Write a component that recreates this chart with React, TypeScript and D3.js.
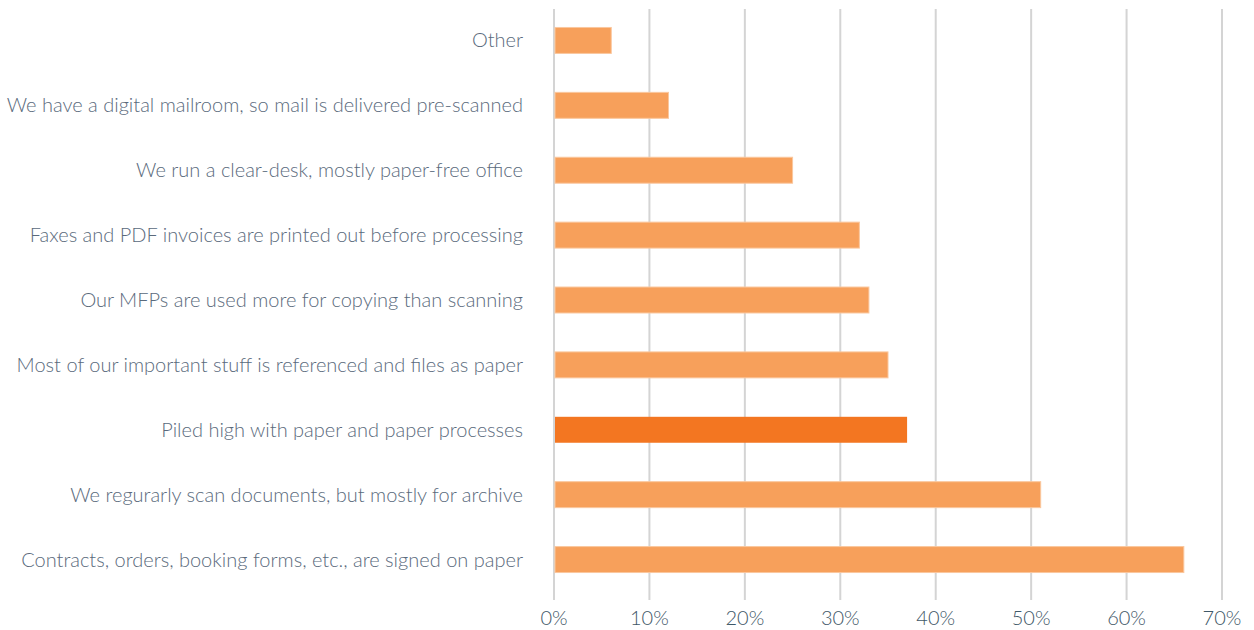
import React from "react";
import * as d3 from "d3";

const categories = [
  "Other",
  "We have a digital mailroom, so mail is delivered pre-scanned",
  "We run a clear-desk, mostly paper-free office",
  "Faxes and PDF invoices are printed out before processing",
  "Our MFPs are used more for copying than scanning",
  "Most of our important stuff is referenced and files as paper",
  "Piled high with paper and paper processes",
  "We regurarly scan documents, but mostly for archive",
  "Contracts, orders, booking forms, etc., are signed on paper",
];
const values = [6, 12, 25, 32, 33, 35, 37, 51, 66];
const highlighted = ["Piled high with paper and paper processes"];
const tickValues = [0, 10, 20, 30, 40, 50, 60, 70];

const W = 1254;
const H = 630;
const x0 = 554;
const x1 = 1222;
const yTop = 8;
const yBottom = 592;

export default function App() {
  const x = d3.scaleLinear().domain([0, 70]).range([x0, x1]);
  const y = d3
    .scaleBand<string>()
    .domain(categories)
    .range([yTop, yBottom])
    .paddingInner(0.6)
    .paddingOuter(0.3);
  const font = "Lato, 'Open Sans', sans-serif";
  return (
    <svg
      width={W}
      height={H}
      style={{ position: "absolute", left: 0, top: 0, background: "#fff" }}
    >
      {tickValues.map((t) => (
        <line
          key={"g" + t}
          x1={x(t)}
          x2={x(t)}
          y1={9}
          y2={600}
          stroke="#d4d4d4"
          strokeWidth={2}
        />
      ))}
      {categories.map((c, i) => (
        <rect
          key={c}
          x={x(0) + 1}
          y={y(c)!}
          width={x(values[i]) - x(0) - 1}
          height={y.bandwidth()}
          fill={highlighted.includes(c) ? "#F37621" : "#F7A05B"}
          stroke={highlighted.includes(c) ? "none" : "#FAC79E"}
          strokeWidth={1}
        />
      ))}
      {categories.map((c) => (
        <text
          key={"l" + c}
          x={523}
          y={y(c)! + y.bandwidth() / 2}
          dy="0.35em"
          textAnchor="end"
          fontFamily={font}
          fontWeight={300}
          fontSize={20}
          fill="#5a6a7c"
        >
          {c}
        </text>
      ))}
      {tickValues.map((t) => (
        <text
          key={"t" + t}
          x={x(t)}
          y={625}
          textAnchor="middle"
          fontFamily={font}
          fontWeight={300}
          fontSize={20}
          fill="#3f5868"
        >
          {t + "%"}
        </text>
      ))}
    </svg>
  );
}
